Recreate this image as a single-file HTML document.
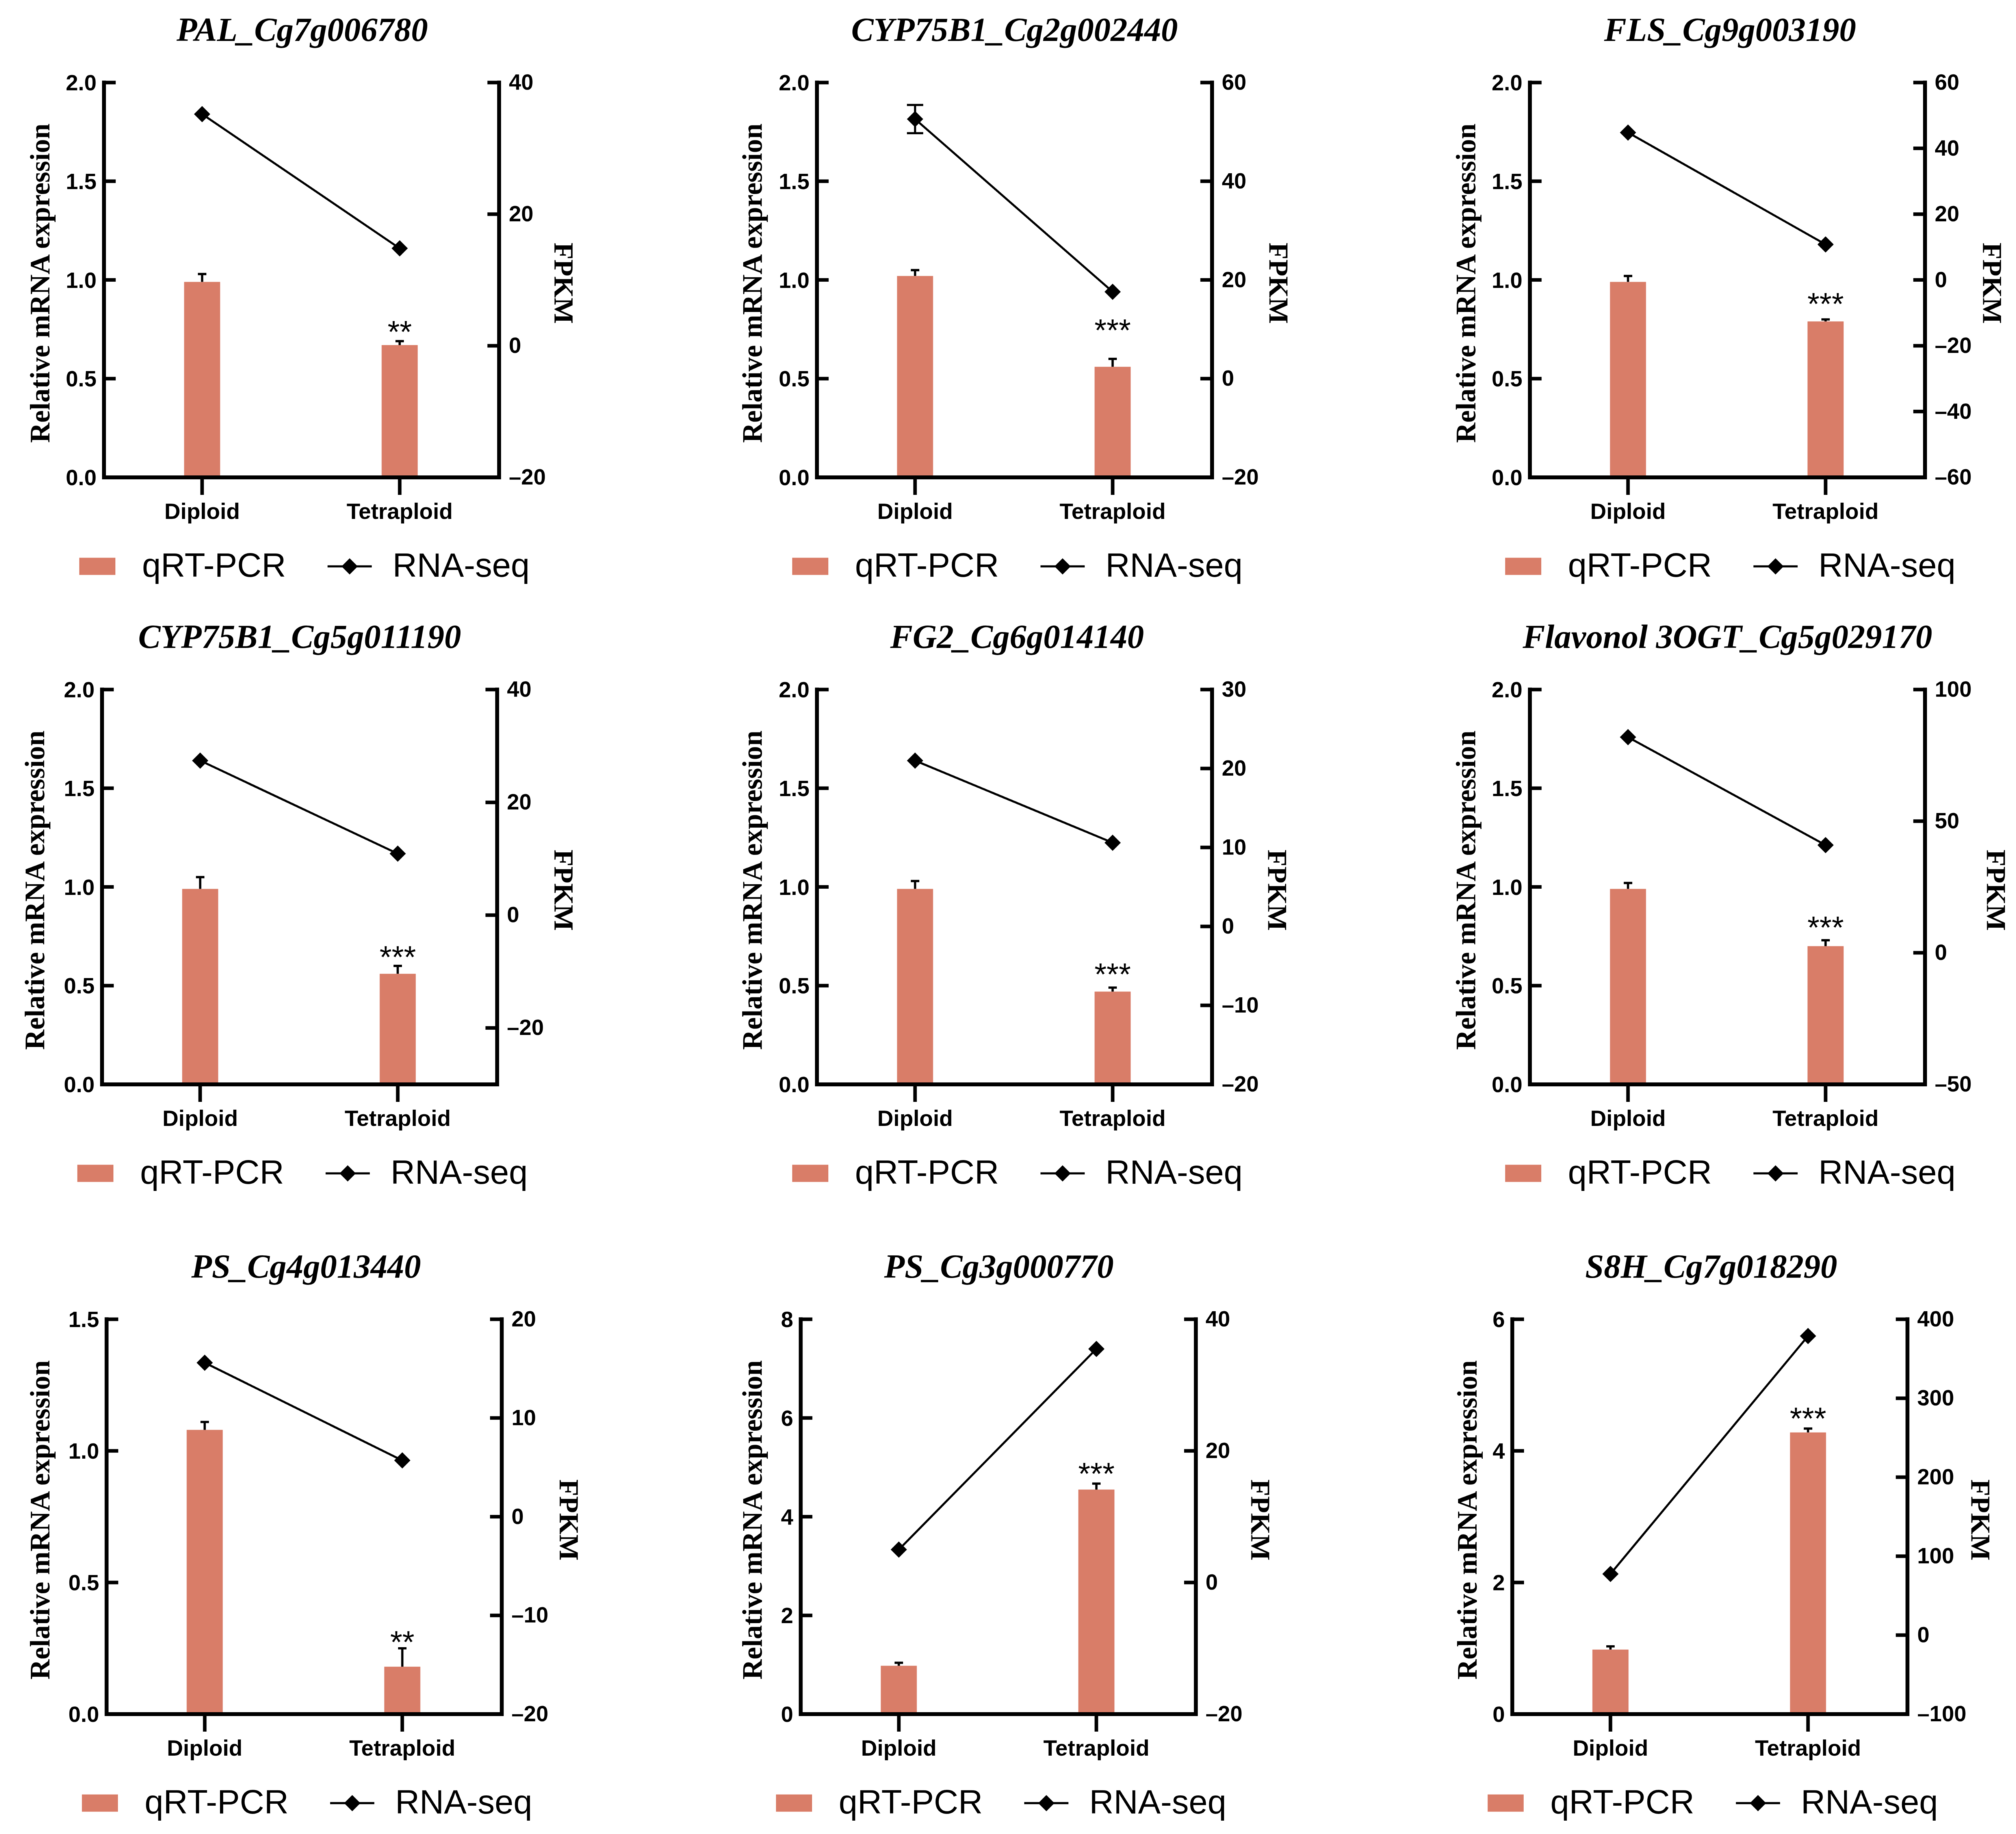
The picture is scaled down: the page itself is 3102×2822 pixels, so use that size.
<!DOCTYPE html>
<html>
<head>
<meta charset="utf-8">
<title>qRT-PCR and RNA-seq panels</title>
<style>
html,body{margin:0;padding:0;background:#fff;width:3102px;height:2822px;overflow:hidden}
svg{display:block;filter:blur(0.6px)}
text{fill:#000}
.tick{font:bold 34px "Liberation Sans",sans-serif}
.cat{font:bold 34.3px "Liberation Sans",sans-serif}
.leg{font:52px "Liberation Sans",sans-serif}
.title{font:italic bold 51.7px "Liberation Serif",serif}
.ytitle{font:bold 43px "Liberation Serif",serif}
.fpkm{font:bold 42.5px "Liberation Serif",serif}
.star{font:48px "Liberation Sans",sans-serif}
</style>
</head>
<body>
<svg id="figure" xmlns="http://www.w3.org/2000/svg" width="3102" height="2822" viewBox="0 0 3102 2822"></svg>
<script>
const titles = ["PAL_Cg7g006780","CYP75B1_Cg2g002440","FLS_Cg9g003190","CYP75B1_Cg5g011190","FG2_Cg6g014140","Flavonol 3OGT_Cg5g029170","PS_Cg4g013440","PS_Cg3g000770","S8H_Cg7g018290"];
const categories = ["Diploid","Tetraploid"];
const leftTicks = [
  [0,0.5,1,1.5,2],[0,0.5,1,1.5,2],[0,0.5,1,1.5,2],
  [0,0.5,1,1.5,2],[0,0.5,1,1.5,2],[0,0.5,1,1.5,2],
  [0,0.5,1,1.5],[0,2,4,6,8],[0,2,4,6]
];
const leftDecimals = [1,1,1,1,1,1,1,0,0];
const rightTicks = [
  [-20,0,20,40],[-20,0,20,40,60],[-60,-40,-20,0,20,40,60],
  [-20,0,20,40],[-20,-10,0,10,20,30],[-50,0,50,100],
  [-20,-10,0,10,20],[-20,0,20,40],[-100,0,100,200,300,400]
];
const rightMin = [-20,-20,-60,-30,-20,-50,-20,-20,-100];
const rightMax = [40,60,60,40,30,100,20,40,400];
const qpcrValues = [[0.99,0.67],[1.02,0.56],[0.99,0.79],[0.99,0.56],[0.99,0.47],[0.99,0.70],[1.08,0.18],[0.98,4.55],[0.98,4.28]];
const qpcrErrors = [[0.04,0.02],[0.03,0.04],[0.03,0.01],[0.06,0.04],[0.04,0.02],[0.03,0.03],[0.03,0.07],[0.06,0.12],[0.05,0.06]];
const rnaValues = [[35.2,14.8],[52.6,17.6],[44.8,10.8],[27.4,10.9],[21,10.6],[81.9,40.9],[15.6,5.7],[5,35.5],[77.5,378.8]];
const rnaErrors = [[0,0],[2.86,0],[0,0],[0,0],[0,0],[0,0],[0,0],[0,0],[0,0]];
const stars = ["**","***","***","***","***","***","**","***","***"];
const starLevels = [0.733,0.74,0.874,0.64,0.553,0.79,0.27,4.85,4.48];

const panelLeft = [160,1257,2354,157,1257,2354,164,1232,2327];
const panelTop = [127,127,127,1061,1061,1061,2030,2030,2030];
const titleCenter = [465,1561,2662,461,1565,2658,471,1537,2633];
const yTitleX = [76,1172,2270,68,1172,2270,76,1172,2272];
const fpkmX = [853,1953,3051,853,1951,3057,861,1925,3033];
const PW = 608, PH = 607.5;
const CAT1 = 151, CAT2 = 455, BARW = 55.5;
const RED = "#D97D68";
const svg = document.getElementById("figure");
const NS = "http://www.w3.org/2000/svg";

function mk(parent, tag, attrs, txt){
  const el = document.createElementNS(NS, tag);
  for(const k in attrs) el.setAttribute(k, attrs[k]);
  if(txt !== undefined) el.textContent = txt;
  parent.appendChild(el);
  return el;
}
function fmtRight(v){ return v < 0 ? "\u2013" + Math.abs(v) : String(v); }
function diamond(cx, cy){
  const r = 12.5;
  return `${cx},${cy-r} ${cx+r},${cy} ${cx},${cy+r} ${cx-r},${cy}`;
}

titles.forEach(function(title, i){
  const L = panelLeft[i], T = panelTop[i], R = L + PW, B = T + PH;
  const lt = leftTicks[i], rt = rightTicks[i];
  const lMax = lt[lt.length-1];
  const yL = v => B - (v / lMax) * PH;
  const yR = v => B - (v - rightMin[i]) / (rightMax[i] - rightMin[i]) * PH;
  const xC = k => L + (k === 0 ? CAT1 : CAT2);

  const g = mk(svg, "g", {});
  
  

  const t = mk(g, "text", {class:"title", x:titleCenter[i], y:T-64, "text-anchor":"middle"}, title);
  
  

  // bars
  categories.forEach(function(c, k){
    const v = qpcrValues[i][k], e = qpcrErrors[i][k], x = xC(k);
    const bar = mk(g, "rect", {x:x-BARW/2, y:yL(v), width:BARW, height:B-yL(v), fill:RED});
    
    
    const err = mk(g, "path", {d:`M${x} ${yL(v)}V${yL(v+e)}M${x-6.5} ${yL(v+e)}H${x+6.5}`, stroke:"#000", "stroke-width":3.5, fill:"none"});
    
    
  });

  // axes
  const leftAxis = mk(g, "line", {x1:L, y1:T-3, x2:L, y2:B+3, stroke:"#000", "stroke-width":6});
  
  
  const rightAxis = mk(g, "line", {x1:R, y1:T-3, x2:R, y2:B+3, stroke:"#000", "stroke-width":6});
  
  
  const xAxis = mk(g, "line", {x1:L-3, y1:B, x2:R+3, y2:B, stroke:"#000", "stroke-width":6});
  
  

  lt.forEach(function(v){
    const y = yL(v);
    const tk = mk(g, "line", {x1:L, y1:y, x2:L+18, y2:y, stroke:"#000", "stroke-width":5.5});
    
    
    const lb = mk(g, "text", {class:"tick", x:L-11.5, y:y+12, "text-anchor":"end"}, v.toFixed(leftDecimals[i]));
    
    
  });
  rt.forEach(function(v){
    const y = yR(v);
    const tk = mk(g, "line", {x1:R-18, y1:y, x2:R, y2:y, stroke:"#000", "stroke-width":5.5});
    
    
    const lb = mk(g, "text", {class:"tick", x:R+15, y:y+11}, fmtRight(v));
    
    
  });
  categories.forEach(function(c, k){
    const x = xC(k);
    const tk = mk(g, "line", {x1:x, y1:B, x2:x, y2:B+27, stroke:"#000", "stroke-width":5.5});
    
    
    const lb = mk(g, "text", {class:"cat", x:x, y:B+64, "text-anchor":"middle"}, c);
    
    
  });

  // axis titles
  const yt = mk(g, "text", {class:"ytitle", "text-anchor":"middle", transform:`translate(${yTitleX[i]} ${T+PH/2+5}) rotate(-90)`}, "Relative mRNA expression");
  
  
  const fp = mk(g, "text", {class:"fpkm", "text-anchor":"middle", transform:`translate(${fpkmX[i]} ${T+PH/2+5}) rotate(90)`}, "FPKM");
  
  

  // RNA-seq line
  const ptx = [xC(0), xC(1)];
  const pty = [yR(rnaValues[i][0]), yR(rnaValues[i][1])];
  const ln = mk(g, "line", {x1:ptx[0], y1:pty[0], x2:ptx[1], y2:pty[1], stroke:"#000", "stroke-width":3.2});
  
  
  [0,1].forEach(function(k){
    const e = rnaErrors[i][k];
    if(e > 0){
      const v = rnaValues[i][k];
      const eb = mk(g, "path", {d:`M${ptx[k]} ${yR(v+e)}V${yR(v-e)}M${ptx[k]-12.5} ${yR(v+e)}H${ptx[k]+12.5}M${ptx[k]-12.5} ${yR(v-e)}H${ptx[k]+12.5}`, stroke:"#000", "stroke-width":3.3, fill:"none"});
      
      
    }
    const d = mk(g, "polygon", {points:diamond(ptx[k], pty[k]), fill:"#000"});
    
    
  });

  // significance
  const st = mk(g, "text", {class:"star", x:xC(1), y:yL(starLevels[i])+15, "text-anchor":"middle"}, stars[i]);
  
  

  // legend
  const lg = mk(g, "g", {});
  
  
  const sw = mk(lg, "rect", {x:L-38, y:B+123.7, width:55.5, height:26.5, fill:RED});
  
  
  const lt1 = mk(lg, "text", {class:"leg", x:L+58.5, y:B+153}, "qRT-PCR");
  
  
  const ll = mk(lg, "line", {x1:L+344, y1:B+137, x2:L+412, y2:B+137, stroke:"#000", "stroke-width":3.2});
  
  
  const ld = mk(lg, "polygon", {points:diamond(L+378, B+137), fill:"#000"});
  
  
  const lt2 = mk(lg, "text", {class:"leg", x:L+444, y:B+153}, "RNA-seq");
  
  
});
</script>
</body>
</html>
